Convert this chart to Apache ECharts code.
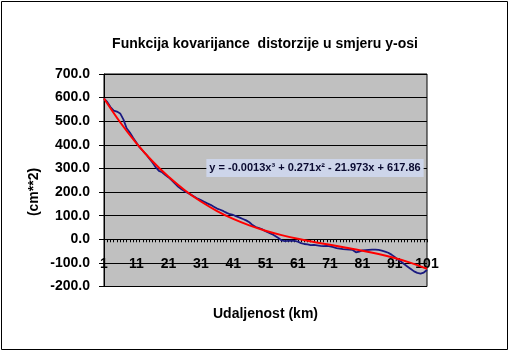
<!DOCTYPE html>
<html>
<head>
<meta charset="utf-8">
<script src="https://cdn.jsdelivr.net/npm/echarts@6/dist/echarts.min.js"></script>
<style>
html,body{margin:0;padding:0;background:#fff;}
#c{width:510px;height:352px;}
</style>
</head>
<body>
<div id="c"></div>
<script>
// Categories: distance 1..101 km
const categories = [];
for (let i = 1; i <= 101; i++) categories.push(String(i));

const covariance = [
  596, 582, 560, 545, 541, 533, 508, 470, 452, 430,
  410, 390, 375, 360, 342, 325, 305, 290, 284, 272,
  262, 250, 236, 222, 212, 203, 196, 188, 180, 172,
  166, 159, 152, 146, 138, 130, 125, 119, 112, 106,
  103, 97, 92, 86, 80, 72, 60, 52, 47, 42,
  34, 28, 22, 14, 5, -5, -8, -7, -6, -7,
  -10, -16, -20, -22, -25, -24, -26, -28, -29, -28,
  -30, -33, -37, -40, -42, -43, -44, -45, -55, -52,
  -47, -46, -45, -44, -44, -45, -48, -52, -57, -65,
  -75, -86, -95, -106, -116, -126, -136, -142, -145, -141,
  -130
];

// Polynomial trend line (red) at every 5th category
const trendCats = [1, 6, 11, 16, 21, 26, 31, 36, 41, 46, 51, 56, 61, 66, 71, 76, 81, 86, 91, 96, 101];
const trendVals = [596.2, 495.5, 407.3, 330.5, 264.4, 207.8, 159.9, 119.7, 86.4, 58.9, 36.3, 17.7, 2.2, -11.3, -23.5, -35.5, -48.2, -62.6, -79.5, -99.9, -124.8];

const xLabelEvery = 10;
const yTicks = [-200, -100, 0, 100, 200, 300, 400, 500, 600, 700];

const titleText = 'Funkcija kovarijance  distorzije u smjeru y-osi';
const xName = 'Udaljenost (km)';
const yName = '(cm**2)';
const equationText = 'y = -0.0013x\u00B3 + 0.271x\u00B2 - 21.973x + 617.86';

const trend = categories.map(() => null);
trendCats.forEach((c, i) => { trend[c - 1] = trendVals[i]; });

const chart = echarts.init(document.getElementById('c'), null, {renderer: 'canvas'});
const font = 'Arial, "Liberation Sans", sans-serif';

chart.setOption({
  animation: false,
  backgroundColor: '#ffffff',
  title: {
    text: titleText,
    left: 260,
    top: 32,
    textAlign: 'center',
    textStyle: {fontFamily: font, fontWeight: 'bold', fontSize: 14, color: '#000'}
  },
  grid: {
    left: 104, top: 74, right: 83, bottom: 65.5,
    outerBoundsMode: 'none',
    containLabel: false,
    show: true, backgroundColor: '#C0C0C0', borderColor: '#000', borderWidth: 1
  },
  xAxis: {
    type: 'category',
    data: categories,
    boundaryGap: false,
    name: xName,
    nameLocation: 'middle',
    nameGap: 21,
    nameTextStyle: {fontFamily: font, fontWeight: 'bold', fontSize: 14, color: '#000'},
    axisLine: {onZero: true, lineStyle: {color: '#000', width: 1}},
    axisTick: {show: true, interval: 0, length: 3, inside: false, lineStyle: {color: '#000'}},
    axisLabel: {
      interval: xLabelEvery - 1,
      margin: -29,
      fontFamily: font, fontWeight: 'bold', fontSize: 14, color: '#000'
    },
    splitLine: {show: false}
  },
  yAxis: {
    type: 'value',
    min: yTicks[0],
    max: yTicks[yTicks.length - 1],
    interval: 100,
    axisLine: {show: true, lineStyle: {color: '#000'}},
    axisTick: {show: true, length: 5, lineStyle: {color: '#000'}},
    axisLabel: {
      margin: 14,
      formatter: v => v.toFixed(1),
      fontFamily: font, fontWeight: 'bold', fontSize: 14, color: '#000'
    },
    splitLine: {show: true, lineStyle: {color: '#000', width: 1}}
  },
  series: [
    {
      type: 'line',
      data: covariance,
      symbol: 'none',
      lineStyle: {color: '#1A1A80', width: 1.8},
      z: 2
    },
    {
      type: 'line',
      data: trend,
      connectNulls: true,
      smooth: 0.3,
      symbol: 'none',
      lineStyle: {color: '#FF0000', width: 2},
      z: 3
    }
  ],
  graphic: [
    {
      type: 'rect',
      shape: {x: 1.5, y: 1.5, width: 506, height: 348},
      style: {fill: 'none', stroke: '#000', lineWidth: 1},
      z: 100
    },
    {
      type: 'text',
      x: 34, y: 192,
      rotation: Math.PI / 2,
      style: {
        text: yName,
        fontFamily: font, fontWeight: 'bold', fontSize: 14, fill: '#000',
        textAlign: 'center', textVerticalAlign: 'middle'
      },
      z: 100
    },
    {
      type: 'text',
      x: 315, y: 168,
      style: {
        text: equationText,
        fontFamily: font, fontWeight: 'bold', fontSize: 11, fill: '#0A0A30',
        textAlign: 'center', textVerticalAlign: 'middle',
        backgroundColor: '#CDD5EA', padding: [4, 3, 3, 3]
      },
      z: 100
    }
  ]
});
</script>
</body>
</html>
